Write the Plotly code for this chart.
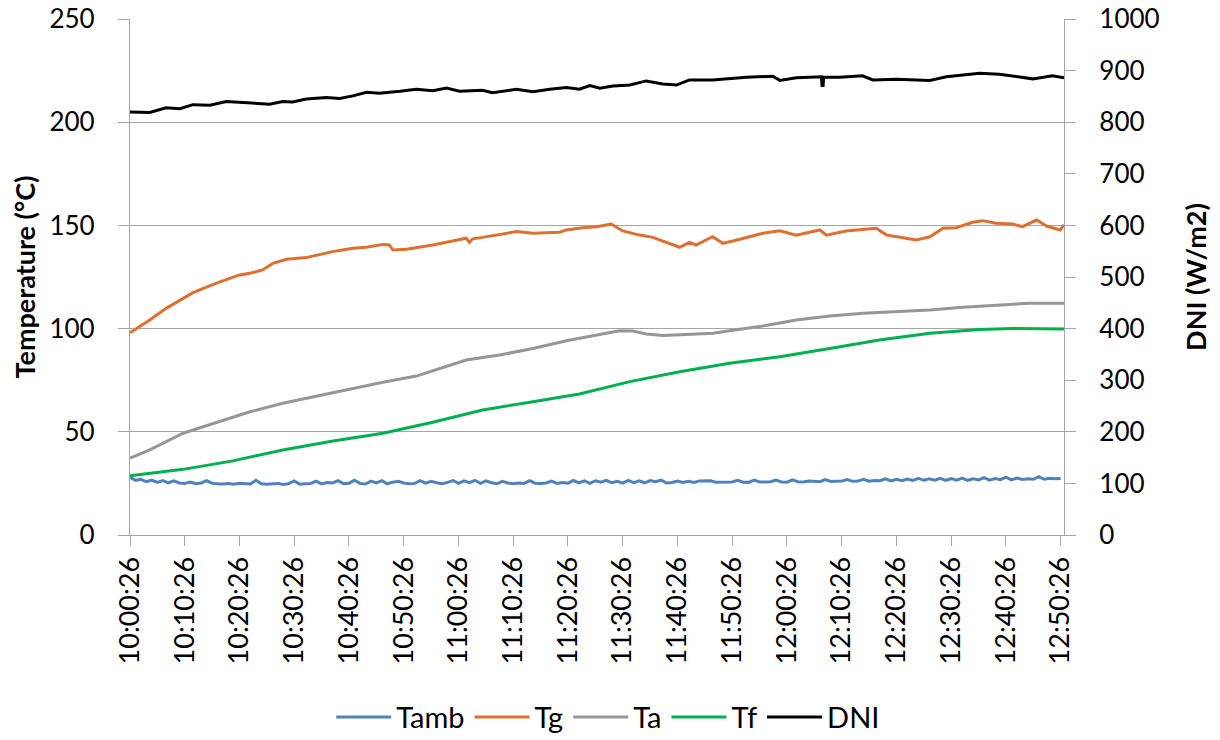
import plotly.graph_objects as go

# ---- tick labels (x axis: minutes after 10:00:26) ----
tick_minutes = [0, 10, 20, 30, 40, 50, 60, 70, 80, 90, 100, 110, 120, 130, 140, 150, 160, 170]
tick_labels = ["10:00:26", "10:10:26", "10:20:26", "10:30:26", "10:40:26", "10:50:26",
               "11:00:26", "11:10:26", "11:20:26", "11:30:26", "11:40:26", "11:50:26",
               "12:00:26", "12:10:26", "12:20:26", "12:30:26", "12:40:26", "12:50:26"]

# ---- Tamb (°C), one reading per minute ----
tamb_t = list(range(0, 171))
tamb_v = [28.0, 26.5, 27.0, 25.8, 26.6, 25.5, 26.4, 25.3, 26.2, 25.2,
          25.0, 25.6, 24.8, 25.2, 26.3, 25.0, 24.8, 24.7, 25.0, 24.6,
          25.1, 25.0, 24.7, 26.5, 24.8, 24.6, 24.9, 25.0, 24.5, 24.9,
          26.2, 24.6, 24.8, 25.0, 26.1, 24.8, 25.4, 25.2, 26.3, 24.9,
          25.1, 26.5, 25.0, 24.7, 26.1, 25.2, 26.3, 24.8, 25.6, 26.0,
          25.2, 24.8, 25.0, 26.3, 25.1, 26.0, 25.3, 24.9, 25.5, 26.4,
          25.0, 26.2, 25.4, 26.5, 25.0, 26.2, 25.3, 24.8, 26.0, 25.2,
          24.8, 25.2, 25.0, 26.3, 25.1, 24.9, 25.2, 26.1, 25.0, 25.4,
          25.1, 26.4, 25.2, 26.2, 25.0, 26.3, 25.6, 26.5, 25.3, 26.0,
          25.1, 26.5, 25.4, 26.2, 25.3, 26.4, 25.8, 26.6, 25.2, 25.4,
          26.1, 25.4, 26.0, 25.5, 26.2, 26.4, 26.3, 25.6, 25.6, 25.4,
          25.7, 26.5, 25.6, 25.5, 26.6, 25.7, 25.6, 25.8, 26.6, 25.7,
          25.6, 26.7, 25.8, 25.7, 26.2, 25.9, 25.8, 26.8, 25.9, 26.0,
          26.1, 26.9, 26.0, 26.2, 27.0, 26.1, 26.4, 26.3, 27.2, 26.2,
          27.0, 26.3, 27.1, 26.4, 27.4, 26.5, 27.2, 26.6, 27.5, 26.4,
          27.3, 26.6, 27.6, 26.5, 27.2, 26.7, 27.8, 26.6, 27.4, 26.8,
          28.0, 26.7, 27.6, 26.9, 27.3, 27.0, 28.3, 27.0, 27.5, 27.2,
          27.4]

# ---- Tg (°C) ----
tg_t = [0, 3.6, 6.6, 11.5, 15.8, 20.0, 21.9, 24.2, 26.1, 28.6, 32.2, 37.0, 40.7, 43.2,
        46.2, 47.4, 48.0, 50.5, 55.3, 60.2, 61.4, 62.0, 62.6, 64.4, 70.6, 73.6, 78.5,
        79.7, 82.7, 85.2, 87.9, 90.0, 93.1, 95.5, 98.0, 100.4, 102.2, 103.4, 106.4,
        108.3, 111.4, 115.6, 118.7, 121.7, 126.0, 127.2, 130.8, 133.8, 136.3, 138.2,
        140.6, 143.6, 146.1, 148.5, 150.9, 153.9, 155.7, 158.2, 161.2, 163.0, 165.6,
        167.4, 169.9, 170.6]
tg_v = [98.0, 104.2, 109.8, 117.4, 122.0, 126.0, 126.8, 128.4, 131.6, 133.6, 134.4, 137.3,
        138.9, 139.4, 140.8, 140.5, 138.1, 138.4, 140.5, 143.3, 143.8, 141.8, 143.5, 144.2,
        147.0, 146.2, 146.7, 147.8, 148.9, 149.4, 150.7, 147.3, 145.3, 144.2, 141.8, 139.4,
        141.8, 140.5, 144.5, 141.3, 143.3, 146.2, 147.4, 145.3, 147.8, 145.3, 147.3, 148.1,
        148.6, 145.3, 144.2, 142.9, 144.5, 148.6, 148.9, 151.5, 152.3, 151.0, 150.7, 149.4,
        152.6, 149.7, 147.8, 150.2]

# ---- Ta (°C) ----
ta_t = [0, 3.6, 9.7, 15.8, 21.9, 27.9, 34.0, 40.1, 46.2, 52.3, 58.4, 61.4, 67.5, 73.6,
        79.7, 82.1, 85.8, 89.4, 91.9, 94.3, 97.4, 102.2, 106.5, 109.5, 115.6, 121.7,
        127.8, 133.9, 140.0, 146.1, 152.1, 158.2, 164.3, 170.6]
ta_v = [37.2, 41.2, 49.3, 54.4, 59.7, 63.8, 67.3, 70.6, 74.0, 77.0, 82.4, 84.8, 87.2, 90.4,
        94.1, 95.3, 97.4, 99.0, 98.8, 97.4, 96.7, 97.2, 97.7, 99.0, 101.3, 104.2, 106.1,
        107.4, 108.2, 109.0, 110.3, 111.4, 112.3, 112.3]

# ---- Tf (°C) ----
tf_t = [0, 9.7, 18.8, 27.9, 37.1, 46.2, 55.3, 64.4, 73.6, 82.1, 91.3, 100.4, 109.5,
        118.7, 127.8, 136.9, 146.1, 155.2, 161.2, 170.6]
tf_v = [28.7, 31.8, 35.9, 41.2, 45.5, 49.3, 54.6, 60.6, 64.6, 68.3, 74.3, 79.1, 83.2,
        86.4, 90.4, 94.5, 97.7, 99.6, 100.1, 99.8]

# ---- DNI (W/m2) ----
dni_t = [0, 3.6, 6.6, 9.1, 11.5, 14.6, 17.6, 21.9, 25.5, 27.9, 29.7, 32.2, 35.9, 38.3,
         40.7, 43.2, 45.6, 49.3, 52.3, 55.3, 57.8, 60.2, 64.4, 66.2, 70.6, 73.6, 76.7,
         79.7, 82.1, 84.0, 85.8, 88.2, 91.3, 94.3, 97.3, 99.8, 102.2, 106.4, 109.5,
         112.6, 117.4, 118.7, 121.7, 124.7, 126.3, 126.4, 126.6, 126.7, 129.6, 133.8,
         135.7, 140.0, 146.1, 149.1, 155.2, 158.8, 164.9, 168.5, 170.6]
dni_v = [820, 819, 828, 826, 834, 833, 840, 838, 835, 840, 839, 845, 848, 846,
         851, 858, 856, 860, 864, 861, 866, 860, 862, 857, 864, 859, 864,
         867, 864, 871, 866, 870, 872, 880, 874, 872, 882, 882, 885,
         887, 889, 881, 886, 888, 888, 871, 871, 887, 887, 890,
         882, 883, 881, 888, 895, 893, 884, 890, 886]

FONT = "Lato"
GRID = "#a6a6a6"

fig = go.Figure()
fig.add_trace(go.Scatter(x=tamb_t, y=tamb_v, name="Tamb", mode="lines",
                         line=dict(color="#4f81bd", width=3)))
fig.add_trace(go.Scatter(x=tg_t, y=tg_v, name="Tg", mode="lines",
                         line=dict(color="#dd7030", width=3)))
fig.add_trace(go.Scatter(x=ta_t, y=ta_v, name="Ta", mode="lines",
                         line=dict(color="#969696", width=3)))
fig.add_trace(go.Scatter(x=tf_t, y=tf_v, name="Tf", mode="lines",
                         line=dict(color="#00b050", width=3)))
fig.add_trace(go.Scatter(x=dni_t, y=dni_v, name="DNI", mode="lines", yaxis="y2",
                         line=dict(color="#000000", width=3)))

fig.update_layout(
    width=1220, height=740,
    margin=dict(l=130, r=156, t=19, b=205, autoexpand=False),
    paper_bgcolor="white", plot_bgcolor="white",
    font=dict(family=FONT, color="#000000", size=26),
    showlegend=True,
    legend=dict(orientation="h", x=0.512, xanchor="center", y=-0.353, yanchor="middle",
                font=dict(size=29, family=FONT), itemwidth=55, tracegroupgap=0),
    xaxis=dict(range=[0, 170.6], tickmode="array", tickvals=tick_minutes, ticktext=tick_labels,
               tickangle=-90, ticks="outside", ticklen=10, tickcolor=GRID, tickwidth=1.3,
               showline=True, linecolor=GRID, linewidth=1.3, showgrid=False, zeroline=False,
               automargin=False, ticklabeloverflow="allow", tickfont=dict(size=27, family=FONT)),
    yaxis=dict(range=[0, 250], dtick=50, tick0=0, ticks="outside", ticklen=11, tickcolor=GRID,
               tickwidth=1.3, showline=True, linecolor=GRID, linewidth=1.3, showgrid=True,
               gridcolor=GRID, gridwidth=1.3, zeroline=False, ticklabelstandoff=18,
               automargin=False, ticklabeloverflow="allow", tickfont=dict(size=26, family=FONT),
               title=dict(text="<b>Temperature (°C)</b>", font=dict(size=27, family=FONT), standoff=5)),
    yaxis2=dict(range=[0, 1000], dtick=100, tick0=0, overlaying="y", side="right",
                ticks="outside", ticklen=11, tickcolor=GRID, tickwidth=1.3, showline=True,
                linecolor=GRID, linewidth=1.3, showgrid=False, zeroline=False,
                automargin=False, ticklabeloverflow="allow", ticklabelstandoff=18,
                tickfont=dict(size=26, family=FONT),
                title=dict(text="<b>DNI (W/m2)</b>", font=dict(size=27, family=FONT), standoff=28)),
)

fig.write_html("out.html", config={"displayModeBar": False},
               post_script="document.body.style.margin='0px';document.body.style.padding='0px';")
